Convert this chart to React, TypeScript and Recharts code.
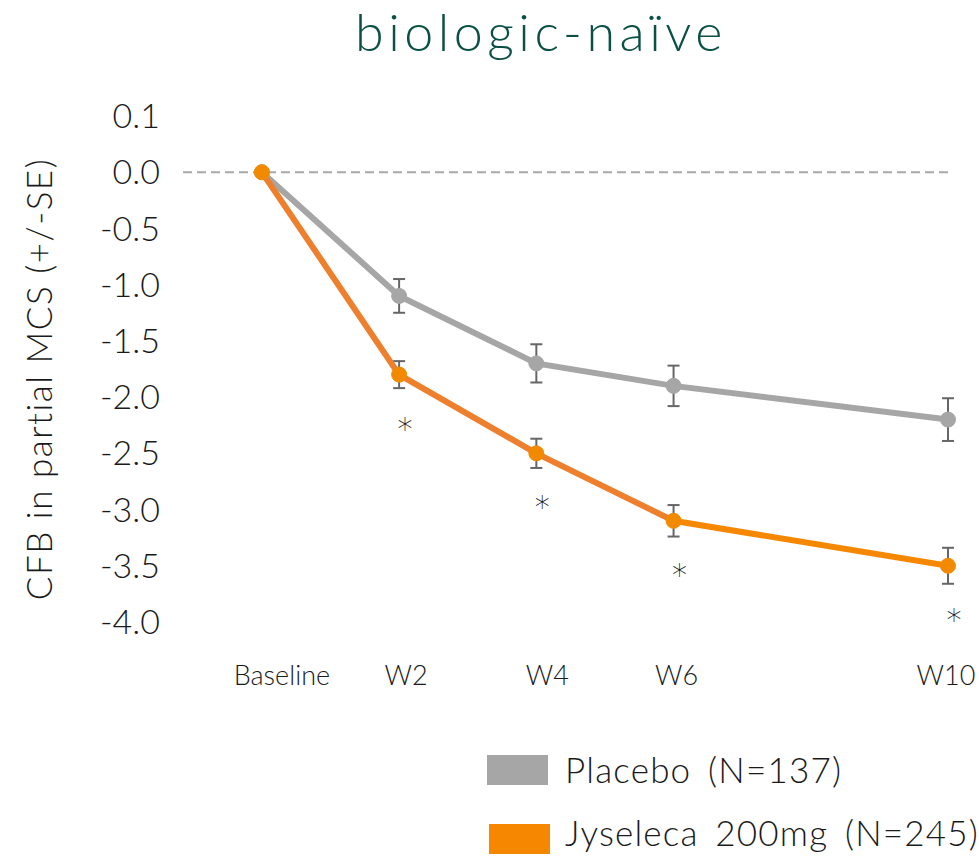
import React from "react";
import {
  LineChart,
  Line,
  XAxis,
  YAxis,
  ReferenceLine,
  ErrorBar,
  LabelList,
} from "recharts";

// weeks since baseline
const weeks = [0, 2, 4, 6, 10];
const weekLabels = ["Baseline", "W2", "W4", "W6", "W10"];

const placebo = [0, -1.1, -1.7, -1.9, -2.2];
const placeboSE = [0, 0.15, 0.17, 0.18, 0.19];
const jyseleca = [0, -1.8, -2.5, -3.1, -3.5];
const jyselecaSE = [0, 0.12, 0.13, 0.14, 0.16];
// significance marks (1 = *)
const starred = [0, 1, 1, 1, 1];

// y ticks as drawn: the top label sits one step above zero
const yTickValues = [0.5, 0, -0.5, -1, -1.5, -2, -2.5, -3, -3.5, -4];
const yTickLabels = ["0.1", "0.0", "-0.5", "-1.0", "-1.5", "-2.0", "-2.5", "-3.0", "-3.5", "-4.0"];

const GRAY = "#a6a6a6";
const ORANGE = "#f28a00";
const FONT = "Lato, 'Open Sans', sans-serif";

// small horizontal nudges so the week labels sit like in the slide
const labelNudge = [20, 7, 11, 3, -2];

const data = weeks.map((w, i) => ({
  week: w,
  placebo: placebo[i],
  placeboErr: placeboSE[i] || null,
  jyseleca: jyseleca[i],
  jyselecaErr: jyselecaSE[i] || null,
  star: starred[i],
}));

const WeekTick = (props: any) => {
  const { x, y, payload, index } = props;
  return (
    <text
      x={x + (labelNudge[index] ?? 0)}
      y={y}
      dy="0.71em"
      textAnchor="middle"
      fontSize={27}
      fontWeight={300}
      fill="#1a1a1a"
      fontFamily={FONT}
    >
      {weekLabels[weeks.indexOf(payload.value)]}
    </text>
  );
};

const StarLabel = (props: any) => {
  const { x, y, index } = props;
  if (!starred[index]) return null;
  return (
    <text
      x={x + 6}
      y={y + 64}
      textAnchor="middle"
      fontSize={30}
      fontWeight={200}
      fill="#111"
      fontFamily="'DejaVu Sans', sans-serif"
    >
      *
    </text>
  );
};

const YTitle = () => (
  <text
    transform="translate(38,379) rotate(-90)"
    textAnchor="middle"
    dominantBaseline="central"
    fontSize={35}
    fontWeight={300}
    letterSpacing={1.5}
    fill="#1a1a1a"
    fontFamily={FONT}
  >
    CFB in partial MCS (+/-SE)
  </text>
);

const legendText: React.CSSProperties = {
  position: "absolute",
  left: 565,
  fontSize: 35,
  lineHeight: "35px",
  fontWeight: 300,
  letterSpacing: 1.2,
  wordSpacing: 6,
  color: "#1a1a1a",
  whiteSpace: "nowrap",
};

export default function App() {
  return (
    <div style={{ position: "absolute", left: 0, top: 0, width: 979, height: 856, background: "#fff", fontFamily: FONT, overflow: "hidden" }}>
      <div
        style={{
          position: "absolute",
          left: 541,
          top: 0,
          transform: "translateX(-50%)",
          fontSize: 52,
          fontWeight: 300,
          letterSpacing: 4.5,
          color: "#0b5045",
          whiteSpace: "nowrap",
        }}
      >
        biologic-naïve
      </div>

      <div style={{ position: "absolute", left: 0, top: 0 }}>
        <LineChart width={979} height={700} data={data} margin={{ top: 116, right: 31, bottom: 18, left: 0 }}>
          <defs>
            <linearGradient id="orangeStroke" x1="0" y1="0" x2="1" y2="0">
              <stop offset="0" stopColor="#ee7f2d" />
              <stop offset="0.6" stopColor="#ee7f2d" />
              <stop offset="0.6" stopColor="#f58800" />
              <stop offset="1" stopColor="#f58800" />
            </linearGradient>
          </defs>
          <XAxis
            dataKey="week"
            type="number"
            domain={[-1.15, 10]}
            ticks={weeks}
            axisLine={false}
            tickLine={false}
            height={60}
            tickMargin={38}
            tick={<WeekTick />}
            interval={0}
          />
          <YAxis
            type="number"
            domain={[-4, 0.5]}
            ticks={yTickValues}
            tickFormatter={(v: number) => yTickLabels[yTickValues.indexOf(v)]}
            axisLine={false}
            tickLine={false}
            width={183}
            tickMargin={17}
            interval={0}
            tick={{ fontSize: 34, fill: "#1a1a1a", fontFamily: FONT, fontWeight: 300 }}
            label={{ content: () => <YTitle /> }}
          />
          <ReferenceLine y={0} stroke="#a8a8a8" strokeWidth={2} strokeDasharray="9 5" />
          <Line
            dataKey="placebo"
            stroke={GRAY}
            strokeWidth={6}
            dot={{ r: 7.5, fill: GRAY, stroke: GRAY, strokeWidth: 1 }}
            isAnimationActive={false}
          >
            <ErrorBar dataKey="placeboErr" width={6} stroke="#666" strokeWidth={2} direction="y" />
          </Line>
          <Line
            dataKey="jyseleca"
            stroke="url(#orangeStroke)"
            strokeWidth={6}
            dot={{ r: 7.5, fill: ORANGE, stroke: ORANGE, strokeWidth: 1 }}
            isAnimationActive={false}
          >
            <ErrorBar dataKey="jyselecaErr" width={6} stroke="#666" strokeWidth={2} direction="y" />
            <LabelList dataKey="star" content={<StarLabel />} />
          </Line>
        </LineChart>
      </div>

      <div style={{ position: "absolute", left: 487, top: 755, width: 61, height: 30, background: GRAY }} />
      <div style={{ ...legendText, top: 752 }}>Placebo (N=137)</div>
      <div style={{ position: "absolute", left: 489, top: 824, width: 61, height: 30, background: "#f58800" }} />
      <div style={{ ...legendText, top: 815 }}>Jyseleca 200mg (N=245)</div>
    </div>
  );
}
